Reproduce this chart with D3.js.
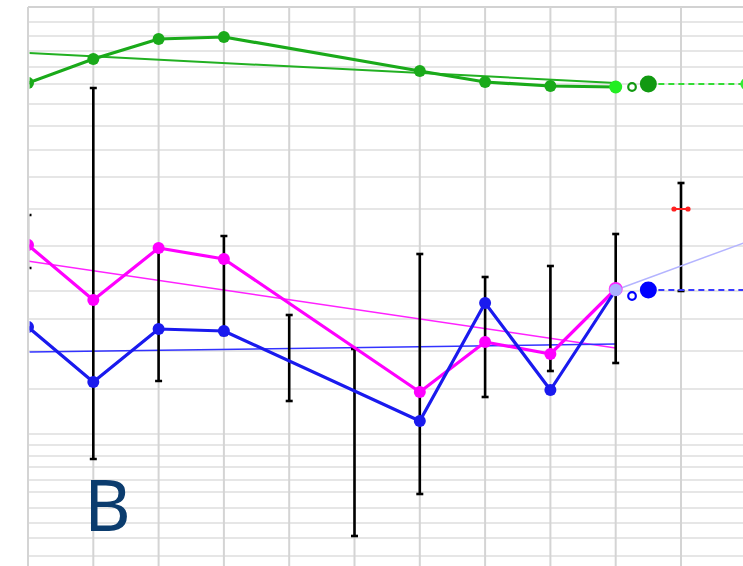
<!DOCTYPE html>
<html>
<head>
<meta charset="utf-8">
<script src="https://cdn.jsdelivr.net/npm/d3@7"></script>
<style>
  html, body { margin: 0; padding: 0; background: #ffffff; }
  svg { display: block; }
</style>
</head>
<body>
<svg id="chart" width="743" height="566"></svg>
<script>
// ---- data (arbitrary vertical units) ----
const categories = [0, 1, 2, 3, 4, 5, 6, 7, 8, 9, 10, 11];
const gridValues = [549, 534, 520, 505, 489, 472, 452, 430, 406, 379, 347, 310, 265,
                    237, 205, 167, 122, 111, 100, 89, 76, 64, 48, 33, 18, 0];
const greenValues   = [473, 497, 517, 519, null, null, 485, 474, 470, 469];
const magentaValues = [311, 256, 308, 297, null, null, 164, 214, 202, 267];
const blueValues    = [229, 174, 227, 225, null, null, 135, 253, 166, 266];
const greenTrend    = [[0, 503], [9, 473]];
const magentaTrend  = [[0, 295], [9, 208]];
const blueTrend     = [[0, 204], [9, 212]];
const lavenderTrend = [[9, 266], [11, 314]];
const errLow  = [288, 97, 175, 221, 155, 20, 62, 159, 185, 193, 265];
const errHigh = [341, 468, 308, 320, 241, 207, 302, 279, 290, 322, 373];
const projX = [9.25, 9.5, 11];
const greenProj = [469, 472, 472];
const blueProj  = [260, 266, 266];
const redMark = [10, 347];
const panelLabel = "B";

// ---- scales ----
const W = 743, H = 566;
const x = d3.scaleLinear().domain([0, 11]).range([28, 746.3]);
const y = d3.scaleLinear().domain([0, 549]).range([556, 7]);

const svg = d3.select("#chart");
svg.append("rect").attr("width", W).attr("height", H).attr("fill", "#fff");

svg.append("defs").append("clipPath").attr("id", "plotclip")
  .append("rect").attr("x", 29.6).attr("y", 0).attr("width", W - 29.6).attr("height", H);

// grid
const grid = svg.append("g");
grid.selectAll("line.h").data(gridValues).join("line")
  .attr("x1", 28).attr("x2", W)
  .attr("y1", d => y(d)).attr("y2", d => y(d))
  .attr("stroke", (d, i) => i === 0 ? "#d2d2d2" : "#dedede")
  .attr("stroke-width", (d, i) => i === 0 ? 2 : 1.6);
grid.selectAll("line.v").data(categories.slice(0, 11)).join("line")
  .attr("x1", d => x(d)).attr("x2", d => x(d))
  .attr("y1", y(549)).attr("y2", H)
  .attr("stroke", "#d4d4d4").attr("stroke-width", 2);

const plot = svg.append("g").attr("clip-path", "url(#plotclip)");

const seg = d3.line().x(d => x(d[0])).y(d => y(d[1]));

// trend lines
plot.append("path").attr("d", seg(greenTrend)).attr("fill", "none")
  .attr("stroke", "#22b022").attr("stroke-width", 2);
plot.append("path").attr("d", seg(magentaTrend)).attr("fill", "none")
  .attr("stroke", "#ff22ff").attr("stroke-width", 1.5);
plot.append("path").attr("d", seg(blueTrend)).attr("fill", "none")
  .attr("stroke", "#3333ff").attr("stroke-width", 1.5);

// error bars
const eb = plot.append("g");
errLow.forEach((lo, i) => {
  const hi = errHigh[i];
  eb.append("line").attr("x1", x(i)).attr("x2", x(i)).attr("y1", y(hi)).attr("y2", y(lo))
    .attr("stroke", "#000").attr("stroke-width", 2.6);
  [lo, hi].forEach(v => eb.append("line")
    .attr("x1", x(i) - 3.5).attr("x2", x(i) + 3.5).attr("y1", y(v)).attr("y2", y(v))
    .attr("stroke", "#000").attr("stroke-width", 2.6));
});

// series (missing values are skipped, the line joins the neighbours)
function series(vals, color) {
  const pts = vals.map((v, i) => [i, v]).filter(d => d[1] != null);
  plot.append("path").attr("d", seg(pts)).attr("fill", "none")
    .attr("stroke", color).attr("stroke-width", 3.2).attr("stroke-linejoin", "round");
  plot.selectAll(null).data(pts.filter(d => d[0] < 9)).join("circle")
    .attr("cx", d => x(d[0])).attr("cy", d => y(d[1])).attr("r", 6).attr("fill", color);
}
series(greenValues, "#1aaa1a");
series(magentaValues, "#ff00ff");
series(blueValues, "#1a1aee");

// projections: lavender trend line
plot.append("path").attr("d", seg(lavenderTrend)).attr("fill", "none")
  .attr("stroke", "#b4b4ff").attr("stroke-width", 1.5);

// dashed projections
plot.append("path").attr("d", seg([[projX[1], greenProj[1]], [projX[2], greenProj[2]]]))
  .attr("fill", "none").attr("stroke", "#33dd33").attr("stroke-width", 2).attr("stroke-dasharray", "6,4");
plot.append("path").attr("d", seg([[projX[1], blueProj[1]], [projX[2], blueProj[2]]]))
  .attr("fill", "none").attr("stroke", "#3a3aff").attr("stroke-width", 2).attr("stroke-dasharray", "6,4");

// last observed points
plot.append("circle").attr("cx", x(9)).attr("cy", y(greenValues[9])).attr("r", 6.5).attr("fill", "#22ee22");
plot.append("circle").attr("cx", x(9)).attr("cy", y(magentaValues[9])).attr("r", 7).attr("fill", "#ff22ff");
plot.append("circle").attr("cx", x(9)).attr("cy", y(blueValues[9])).attr("r", 6.2).attr("fill", "#aab0ff");

// hollow + big projection markers
plot.append("circle").attr("cx", x(projX[0])).attr("cy", y(greenProj[0])).attr("r", 3.8)
  .attr("fill", "#fff").attr("stroke", "#119911").attr("stroke-width", 2.2);
plot.append("circle").attr("cx", x(projX[1])).attr("cy", y(greenProj[1])).attr("r", 8.5).attr("fill", "#119911");
plot.append("circle").attr("cx", x(projX[2])).attr("cy", y(greenProj[2])).attr("r", 6).attr("fill", "#33ee33");
plot.append("circle").attr("cx", x(projX[0])).attr("cy", y(blueProj[0])).attr("r", 3.8)
  .attr("fill", "#fff").attr("stroke", "#0000ff").attr("stroke-width", 2.2);
plot.append("circle").attr("cx", x(projX[1])).attr("cy", y(blueProj[1])).attr("r", 8.5).attr("fill", "#0000ff");

// red marker
const rx = x(redMark[0]), ry = y(redMark[1]);
plot.append("line").attr("x1", rx - 7).attr("x2", rx + 7).attr("y1", ry).attr("y2", ry)
  .attr("stroke", "#ff2020").attr("stroke-width", 2);
[rx - 7, rx + 7].forEach(cx => plot.append("circle").attr("cx", cx).attr("cy", ry).attr("r", 2.6).attr("fill", "#ff2020"));

// panel label
svg.append("text").attr("x", 84).attr("y", 531).text(panelLabel)
  .attr("font-family", "'Noto Sans', 'Open Sans', sans-serif").attr("font-size", 72)
  .attr("fill", "#0b3c6e");
</script>
</body>
</html>
